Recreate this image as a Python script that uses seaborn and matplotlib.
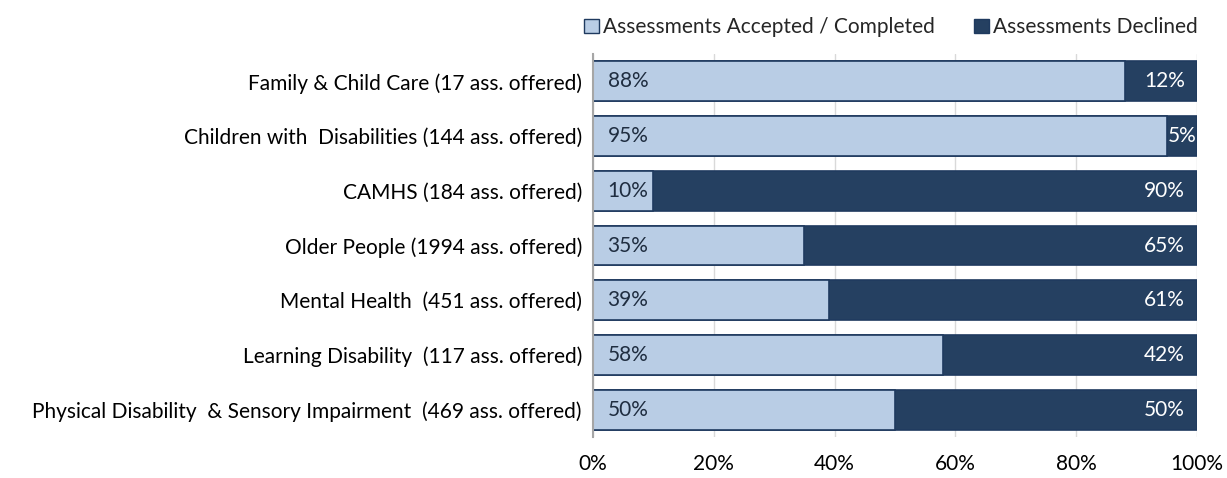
import matplotlib
matplotlib.use("Agg")
import matplotlib.pyplot as plt
import numpy as np
import pandas as pd
import seaborn as sns
from matplotlib.patches import Patch

categories = [
    "Family & Child Care (17 ass. offered)",
    "Children with  Disabilities (144 ass. offered)",
    "CAMHS (184 ass. offered)",
    "Older People (1994 ass. offered)",
    "Mental Health  (451 ass. offered)",
    "Learning Disability  (117 ass. offered)",
    "Physical Disability  & Sensory Impairment  (469 ass. offered)",
]
accepted = [88, 95, 10, 35, 39, 58, 50]
declined = [12, 5, 90, 65, 61, 42, 50]
ticks = [0, 20, 40, 60, 80, 100]

LIGHT = "#B9CDE5"
DARK = "#254061"
EDGE = "#1F3A5F"
FS = 15

sns.set_theme(style="white")
plt.rcParams["font.family"] = ["Lato", "DejaVu Sans"]

df = pd.DataFrame({"category": categories, "accepted": accepted, "declined": declined})
df["total"] = df["accepted"] + df["declined"]

fig = plt.figure(figsize=(12.27, 4.78), dpi=100)
ax = fig.add_axes([0.4833, 0.0858, 0.4923, 0.8012])

sns.barplot(data=df, x="total", y="category", orient="h", color=DARK,
            edgecolor=EDGE, linewidth=1.2, width=0.73, saturation=1, ax=ax, zorder=2)
sns.barplot(data=df, x="accepted", y="category", orient="h", color=LIGHT,
            edgecolor=EDGE, linewidth=1.2, width=0.73, saturation=1, ax=ax, zorder=3)

for i, (a, d) in enumerate(zip(accepted, declined)):
    ax.text(2.4, i, f"{a}%", ha="left", va="center", fontsize=FS, color="#1F2D40", zorder=5)
    if d < 8:
        # narrow segment: centre the label in it
        ax.text(a + d / 2, i, f"{d}%", ha="center", va="center", fontsize=FS, color="white", zorder=5)
    else:
        ax.text(98.0, i, f"{d}%", ha="right", va="center", fontsize=FS, color="white", zorder=5)

ax.set_xlim(0, 100)
ax.set_ylim(len(categories) - 0.5, -0.5)
ax.set_xticks(ticks)
ax.set_xticklabels([f"{t}%" for t in ticks], fontsize=FS, color="black")
ax.tick_params(axis="x", length=0, pad=12)
ax.tick_params(axis="y", length=0, pad=8, labelsize=FS, labelcolor="black")
ax.set_xlabel("")
ax.set_ylabel("")
ax.xaxis.grid(True, color="#D9D9D9", linewidth=1, zorder=0)
ax.set_axisbelow(True)
for s in ["top", "right", "bottom"]:
    ax.spines[s].set_visible(False)
ax.spines["left"].set_color("#A6A6A6")
ax.spines["left"].set_linewidth(1.5)
ax.spines["left"].set_zorder(6)

handles = [
    Patch(facecolor=LIGHT, edgecolor=EDGE, linewidth=1, label="Assessments Accepted / Completed"),
    Patch(facecolor=DARK, edgecolor=EDGE, linewidth=1, label="Assessments Declined"),
]
fig.legend(handles=handles, loc="center right", bbox_to_anchor=(0.983, 0.943), ncol=2,
           frameon=False, fontsize=FS, handlelength=0.7, handleheight=0.7,
           handletextpad=0.2, columnspacing=1.9, borderaxespad=0)

fig.savefig("out.png", dpi=100)
